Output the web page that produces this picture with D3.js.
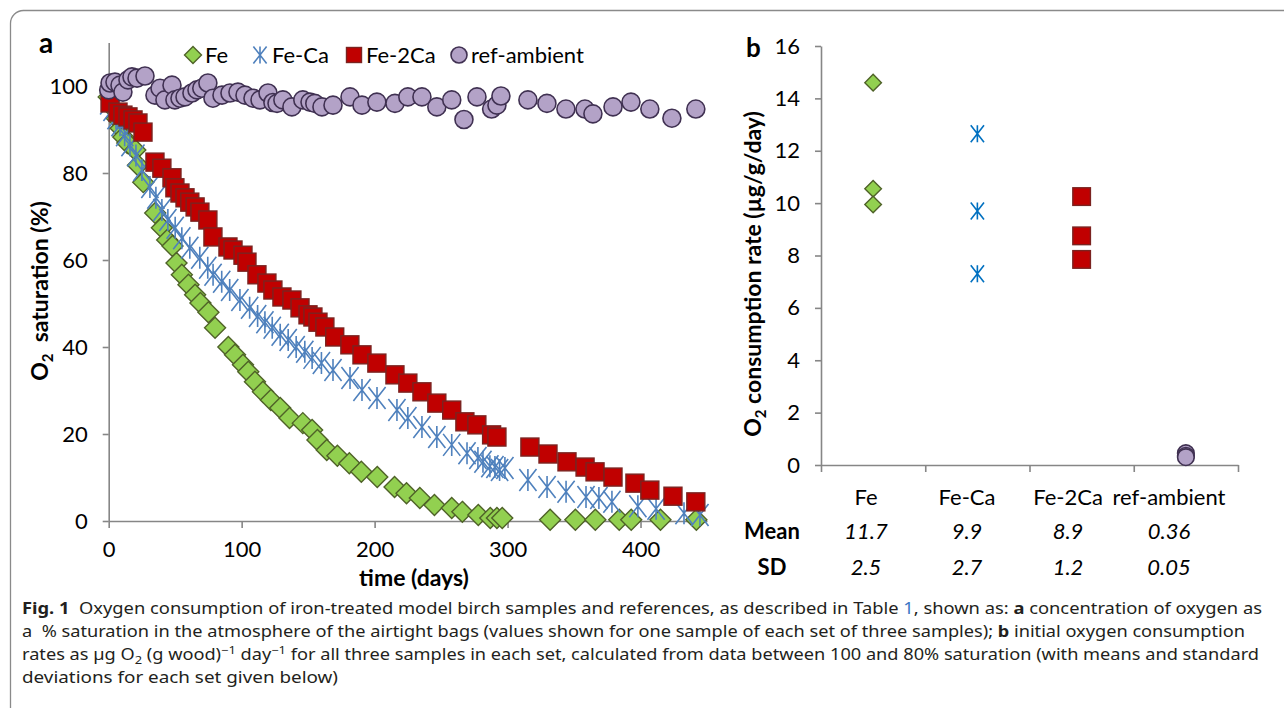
<!DOCTYPE html>
<html>
<head>
<meta charset="utf-8">
<script src="https://cdn.jsdelivr.net/npm/d3@7"></script>
<style>
  body { margin: 0; background: #fff; }
  svg text { font-family: Lato, "Open Sans", sans-serif; fill: #000; }
  .cap text, text.cap { font-family: "Noto Sans", "Open Sans", sans-serif; fill: #231f20; }
</style>
</head>
<body>
<svg id="fig" width="1284" height="708"></svg>
<script>
// ---- panel a : O2 saturation (%) over time (days), one sample per set ----
const feSeries = [[0,97.5],[3,95],[6,92.6],[9,90.3],[11,88.3],[14,86.9],[20,85.3],[22,81.8],[26,77.9],[35,70.8],[40,67.4],[44,64.6],[48,63.2],[51,59.3],[55,56.6],[60,54.3],[65,52],[69,50.1],[75,48],[80,44.4],[90,40],[95,38.2],[101,35.9],[105,34.3],[110,32],[116,29.7],[122,27.8],[129,26],[136,23.7],[146,22.5],[153,20.9],[157,18.6],[164,16.3],[172,15],[181,13.3],[190,11.3],[202,10.1],[215,7.8],[224,6.4],[234,5.3],[245,3.7],[258,3],[266,2.1],[278,1.4],[287,0.7],[292,0.7],[296,0.7],[332,0.3],[351,0.3],[366,0.3],[384,0.3],[393,0.3],[415,0.3],[442,0.3]]
const feCaSeries = [[0,96],[2.5,94.5],[5.5,92.6],[8.5,91],[12,88.7],[16,86.4],[20.5,84],[25,80.7],[31,76.8],[35.5,74.3],[40,71.5],[44.5,69.2],[50,67.4],[55,65],[61,62.8],[68.5,60.5],[74.5,58.2],[78.5,56.6],[85,55],[91,53.1],[98.7,50.8],[106,49],[112,47.1],[117.5,45.7],[123,44.4],[129,42.8],[135,41.6],[141,40],[147.5,38.9],[153,37.5],[160,36.3],[168.7,34.7],[181.5,32.9],[190.5,30.1],[201.8,28.3],[216.8,25.5],[225,23.7],[235.6,21.6],[246.8,19.3],[258,17.5],[269.5,15.6],[277.7,14.5],[281.5,13.6],[286.7,12.6],[290.5,12.4],[294,11.7],[298,12.2],[315.3,9.4],[329.7,7.8],[344,6.7],[359,5.5],[368.7,5.3],[378.5,4.4],[398,3.4],[411.7,2.8],[432.7,1.8],[444.7,1.4]]
const fe2CaSeries = [[1,96.1],[7,94],[10.7,93.3],[14.5,92.9],[18.3,92.2],[22,91.5],[25.8,89.4],[34.8,82.5],[40,81.1],[47.6,78.9],[49.8,76.6],[53.6,75.4],[57.4,74.3],[61,73.3],[65,72.2],[68.6,71],[74.6,69.2],[78.4,65.3],[89.7,63],[93.5,62.3],[101,61.1],[104,59.5],[111.5,56.6],[119,54.7],[123.5,53.1],[130.3,51.5],[137.8,50.8],[143.9,49],[149.9,47.4],[153.6,46.9],[157.4,45.7],[162.6,44.6],[170,42.3],[181.4,40.5],[190.5,38.2],[201.7,36.3],[215.3,33.6],[225,31.7],[235.6,29.7],[246.8,27.1],[258,25.5],[267.9,22.8],[276.9,22.1],[288,19.8],[292,19.3],[316.8,17],[330.4,15.4],[344.7,13.6],[358.3,12.4],[365.8,11.3],[379.3,10.1],[395.8,8.7],[407,7.1],[424.4,5.7],[441.6,4.4]]
const refSeries = [[0,99.1],[1,100.7],[4.7,100.9],[8.5,100.2],[10.7,98.6],[14.5,101.4],[17.5,102.1],[21.3,101.8],[27.3,102.3],[34.8,97.9],[38.6,99.5],[42.3,96.8],[47.6,100.2],[49.8,96.8],[53.6,97.2],[57.4,97.5],[62.6,98.4],[66.4,99.1],[70,99.5],[74.6,100.7],[78.4,97.2],[85.2,97.9],[91.2,98.4],[97.2,98.6],[102.5,97.9],[108.5,97.2],[113.8,96.8],[119.8,98.4],[123.5,96.2],[126.6,96],[131,96.8],[137.8,95.2],[146,96.8],[151.4,96.3],[155,96],[160.4,95.2],[168.7,95.6],[181.5,97.5],[190.5,95.6],[201.7,96.3],[215.3,96],[225,97.5],[235.6,97.5],[246.8,95.2],[258,96.8],[267.2,92.3],[277,97.5],[288,94.7],[292,95.6],[295,97.7],[315.3,96.8],[329.6,96],[343.9,94.7],[358.2,94.7],[364.2,93.6],[379.3,95.2],[392.8,96.3],[407,94.7],[423.6,92.6],[441.6,94.7]]
const timeTicks = [0, 100, 200, 300, 400]
const satTicks = [0, 20, 40, 60, 80, 100]

// ---- panel b : initial O2 consumption rate, three samples per set ----
const rateCategories = ["Fe", "Fe-Ca", "Fe-2Ca", "ref-ambient"]
const rateValues = [[14.6, 10.55, 9.95], [12.65, 9.7, 7.3], [10.25, 8.75, 7.85], [0.45, 0.35, 0.3]]
const rateMeans = ["11.7", "9.9", "8.9", "0.36"]
const rateSDs = ["2.5", "2.7", "1.2", "0.05"]
const rateTicks = [0, 2, 4, 6, 8, 10, 12, 14, 16]

const legendNames = ["Fe", "Fe-Ca", "Fe-2Ca", "ref-ambient"]

const axisColor = "#868686"
const fs = 22        // tick / legend text
const fsTitle = 23   // bold axis titles
const style = {
  diamond: { fill: "#92d050", stroke: "#4f6228" },
  aster: { stroke: "#4f81bd" },
  asterB: { stroke: "#0070c0" },
  square: { fill: "#c00000", stroke: "#7a2320" },
  circle: { fill: "#b3a2c7", stroke: "#403152" }
}

const svg = d3.select("#fig")

// frame round the figure
svg.append("rect")
  .attr("x", 10.5).attr("y", 10.5).attr("width", 1320).attr("height", 740).attr("rx", 13)
  .attr("fill", "none").attr("stroke", "#8a8a8a").attr("stroke-width", 1.3)

function drawMarker(g, type, x, y, s) {
  // s = half width of the marker
  if (type === "diamond") {
    g.append("path").attr("d", `M${x},${y - s}L${x + s},${y}L${x},${y + s}L${x - s},${y}Z`)
      .attr("fill", style.diamond.fill).attr("stroke", style.diamond.stroke).attr("stroke-width", 1.4)
  } else if (type === "aster" || type === "asterB") {
    let c = style[type].stroke
    let d = s * 0.78
    g.append("path").attr("d", `M${x - d},${y - s}L${x + d},${y + s}M${x + d},${y - s}L${x - d},${y + s}M${x},${y - s}L${x},${y + s}`)
      .attr("fill", "none").attr("stroke", c).attr("stroke-width", 1.6)
  } else if (type === "square") {
    g.append("rect").attr("x", x - s).attr("y", y - s).attr("width", 2 * s).attr("height", 2 * s)
      .attr("fill", style.square.fill).attr("stroke", style.square.stroke).attr("stroke-width", 1.4)
  } else {
    g.append("circle").attr("cx", x).attr("cy", y).attr("r", s)
      .attr("fill", style.circle.fill).attr("stroke", style.circle.stroke).attr("stroke-width", 1.6)
  }
}

function styleAxis(g) {
  g.selectAll("path, line").attr("stroke", axisColor).attr("stroke-width", 1.6)
  g.selectAll("text").attr("font-size", fs).attr("fill", "#000")
    .attr("font-family", "Lato, 'Open Sans', sans-serif")
}

// ================= panel a =================
const xA = d3.scaleLinear().domain([0, 450]).range([108.7, 707])
const yA = d3.scaleLinear().domain([0, 110]).range([521, 42.5])

const gA = svg.append("g")
gA.append("g").attr("transform", `translate(0,${yA(0)})`)
  .call(d3.axisBottom(xA).tickValues(timeTicks).tickSize(7).tickSizeOuter(0).tickPadding(13))
  .call(styleAxis)
gA.append("g").attr("transform", `translate(${xA(0)},0)`)
  .call(d3.axisLeft(yA).tickValues(satTicks).tickSize(6).tickSizeOuter(0).tickPadding(15))
  .call(styleAxis)

const seriesA = [
  { data: feSeries, type: "diamond", s: 10.5 },
  { data: feCaSeries, type: "aster", s: 11 },
  { data: fe2CaSeries, type: "square", s: 9 },
  { data: refSeries, type: "circle", s: 9 }
]
seriesA.forEach(sr => {
  let g = gA.append("g")
  sr.data.forEach(d => drawMarker(g, sr.type, xA(d[0]), yA(d[1]), sr.s))
})

gA.append("text").attr("x", 414).attr("y", 586).attr("text-anchor", "middle")
  .attr("font-size", fsTitle).attr("font-weight", "bold").text("time (days)")

let ylabA = gA.append("text").attr("transform", "translate(48,291) rotate(-90)")
  .attr("text-anchor", "middle").attr("font-size", fsTitle).attr("font-weight", "bold")
ylabA.append("tspan").text("O")
ylabA.append("tspan").attr("font-size", 15).attr("dy", 5).text("2")
ylabA.append("tspan").attr("dy", -5).text("\u00a0 saturation (%)")

gA.append("text").attr("x", 39).attr("y", 53).attr("font-size", 28).attr("font-weight", "bold").text("a")

// legend
const legendX = [193, 260, 354, 459]
const legendTypes = ["diamond", "aster", "square", "circle"]
const legendSize = [8.5, 8.5, 7.5, 8]
legendNames.forEach((n, i) => {
  let g = gA.append("g")
  drawMarker(g, legendTypes[i], legendX[i], 55, legendSize[i])
  g.append("text").attr("x", legendX[i] + 12).attr("y", 63).attr("font-size", fs).text(n)
})

// ================= panel b =================
const xB = d3.scaleBand().domain(rateCategories).range([821, 1238])
const xBedges = d3.scaleLinear().domain([0, rateCategories.length]).range([821, 1238])
const yB = d3.scaleLinear().domain([0, 16]).range([465, 46])

const gB = svg.append("g")
gB.append("g").attr("transform", `translate(0,${yB(0)})`)
  .call(d3.axisBottom(xBedges).tickValues(d3.range(rateCategories.length + 1)).tickSize(7).tickSizeOuter(0).tickFormat(""))
  .call(styleAxis)
gB.append("g").attr("transform", `translate(${xBedges(0)},0)`)
  .call(d3.axisLeft(yB).tickValues(rateTicks).tickSize(6).tickSizeOuter(0).tickPadding(15))
  .call(styleAxis)

const typesB = ["diamond", "asterB", "square", "circle"]
const sizesB = [8.3, 8.5, 8.8, 8.3]
rateCategories.forEach((c, i) => {
  let g = gB.append("g")
  rateValues[i].forEach(v => drawMarker(g, typesB[i], xB(c) + xB.bandwidth() / 2, yB(v), sizesB[i]))
})

let ylabB = gB.append("text").attr("transform", "translate(761,274) rotate(-90)")
  .attr("text-anchor", "middle").attr("font-size", fsTitle).attr("font-weight", "bold")
ylabB.append("tspan").text("O")
ylabB.append("tspan").attr("font-size", 15).attr("dy", 5).text("2")
ylabB.append("tspan").attr("dy", -5).text(" consumption rate (\u00b5g/g/day)")

gB.append("text").attr("x", 746).attr("y", 57).attr("font-size", 26).attr("font-weight", "bold").text("b")

// table under panel b
const colX = d3.scalePoint().domain(rateCategories).range([866, 1169])
rateCategories.forEach((c, i) => {
  gB.append("text").attr("x", colX(c)).attr("y", 505).attr("text-anchor", "middle").attr("font-size", fs).text(c)
  gB.append("text").attr("x", colX(c)).attr("y", 539).attr("text-anchor", "middle").attr("font-size", fs)
    .attr("font-style", "italic").text(rateMeans[i])
  gB.append("text").attr("x", colX(c)).attr("y", 575).attr("text-anchor", "middle").attr("font-size", fs)
    .attr("font-style", "italic").text(rateSDs[i])
})
gB.append("text").attr("x", 772).attr("y", 539).attr("text-anchor", "middle").attr("font-size", fs).attr("font-weight", "bold").text("Mean")
gB.append("text").attr("x", 772).attr("y", 575).attr("text-anchor", "middle").attr("font-size", fs).attr("font-weight", "bold").text("SD")

// ================= caption =================
const cap = svg.append("g").attr("class", "cap")
function capLine(y, len, parts) {
  let t = cap.append("text").attr("x", 22).attr("y", y).attr("font-size", 15.5)
  if (len) t.attr("textLength", len).attr("lengthAdjust", "spacingAndGlyphs")
  parts.forEach(p => {
    let ts = t.append("tspan").text(p.t)
    if (p.b) ts.attr("font-weight", "bold")
    if (p.c) ts.style("fill", p.c)
    if (p.dy) ts.attr("dy", p.dy)
    if (p.fs) ts.attr("font-size", p.fs)
  })
}
capLine(614, 1240, [
  { t: "Fig. 1", b: true },
  { t: "\u00a0 Oxygen consumption of iron-treated model birch samples and references, as described in Table " },
  { t: "1", c: "#3a76c4" },
  { t: ", shown as: " }, { t: "a", b: true }, { t: " concentration of oxygen as" }
])
capLine(637, 1223, [
  { t: "a \u00a0% saturation in the atmosphere of the airtight bags (values shown for one sample of each set of three samples); " },
  { t: "b", b: true }, { t: " initial oxygen consumption" }
])
capLine(660, 1237, [
  { t: "rates as \u00b5g O" }, { t: "2", fs: 11, dy: 4 }, { t: " (g wood)", dy: -4 },
  { t: "\u22121", fs: 11, dy: -6 }, { t: " day", dy: 6 }, { t: "\u22121", fs: 11, dy: -6 },
  { t: " for all three samples in each set, calculated from data between 100 and 80% saturation (with means and standard", dy: 6 }
])
capLine(683, 316, [{ t: "deviations for each set given below)" }])
</script>
</body>
</html>
